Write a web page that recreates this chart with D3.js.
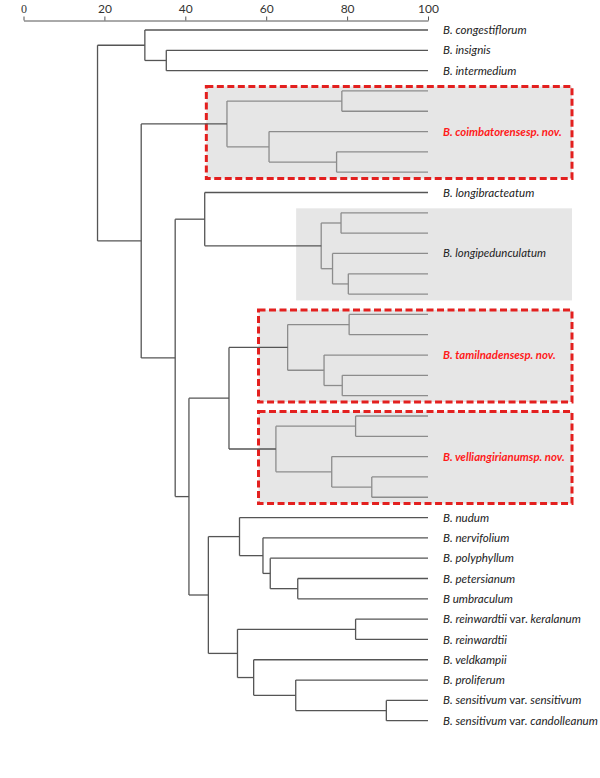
<!DOCTYPE html>
<html><head><meta charset="utf-8">
<script src="https://cdn.jsdelivr.net/npm/d3@7"></script>
<style>body{margin:0;background:#fff} svg{display:block}</style>
</head><body>
<svg id="chart" width="600" height="778"></svg>
<script>
// ---- data ----
const axisTicks = [0, 20, 40, 60, 80, 100];
const leafLabels = [
  "B. congestiflorum", "B. insignis", "B. intermedium",
  "", "", "", "", "",
  "B. longibracteatum",
  "", "", "", "", "",
  "", "", "", "", "",
  "", "", "", "", "",
  "B. nudum", "B. nervifolium", "B. polyphyllum", "B. petersianum", "B umbraculum",
  "B. reinwardtii var. keralanum", "B. reinwardtii", "B. veldkampii", "B. proliferum",
  "B. sensitivum var. sensitivum", "B. sensitivum var. candolleanum"
];
// linkage (node id of merge i = leafCount + i)
const mergeLeft   = [1, 0, 3, 6, 5, 37, 9, 12, 11, 41, 8, 14, 17, 16, 46, 19, 22, 21, 50, 49, 27, 26, 25, 24, 29, 33, 32, 31, 59, 58, 54, 45, 40, 36];
const mergeRight  = [2, 35, 4, 7, 38, 39, 10, 13, 42, 43, 44, 15, 18, 47, 48, 20, 23, 51, 52, 53, 28, 55, 56, 57, 30, 34, 60, 61, 62, 63, 64, 65, 66, 67];
const mergeHeight = [35.3, 30.0, 78.7, 77.4, 60.7, 50.3, 78.5, 80.3, 76.4, 73.6, 44.8, 80.5, 78.8, 74.3, 65.3, 82.1, 86.1, 76.2, 62.4, 50.8, 67.8, 61.0, 59.2, 53.4, 82.1, 89.7, 67.3, 56.9, 52.9, 45.7, 40.9, 37.5, 29.1, 18.3];
const groupLabels = ["B. coimbatorensesp. nov.", "B. longipedunculatum", "B. tamilnadensesp. nov.", "B. velliangirianumsp. nov."];
const groupFirst = [3, 9, 14, 19];
const groupLast = [7, 13, 18, 23];
const groupBoxStart = [45.2, 67.4, 58.1, 58.1];
const groupNew = [true, false, true, true];

// ---- layout ----
const svg = d3.select("#chart");
const nLeaves = leafLabels.length;
const x = d3.scaleLinear().domain([0, 100]).range([23.5, 428]);
const y = d3.scaleLinear().domain([0, nLeaves - 1]).range([30, 720.7]);
const boxRight = 572;
const labelX = x(100) + 15;
const fontFam = "Lato, 'Open Sans', sans-serif";

// nodes
const nodes = [];
for (let i = 0; i < nLeaves; i++) nodes.push({ h: 100, y: y(i), leaves: [i] });
mergeLeft.forEach((l, i) => {
  const a = nodes[l], b = nodes[mergeRight[i]];
  nodes.push({ h: mergeHeight[i], y: (a.y + b.y) / 2, children: [a, b], leaves: a.leaves.concat(b.leaves) });
});
function groupOf(node) {
  for (let g = 0; g < groupFirst.length; g++) {
    if (node.leaves.every(k => k >= groupFirst[g] && k <= groupLast[g])) return g;
  }
  return -1;
}

// boxes
groupLabels.forEach((lab, g) => {
  const top = y(groupFirst[g]) - 4.5, bot = y(groupLast[g]) + 6.3;
  svg.append("rect")
    .attr("x", x(groupBoxStart[g])).attr("y", top)
    .attr("width", boxRight - x(groupBoxStart[g])).attr("height", bot - top)
    .attr("fill", "#e6e6e6")
    .attr("stroke", groupNew[g] ? "#e3201f" : "none")
    .attr("stroke-width", 3)
    .attr("stroke-dasharray", "7,3.5");
});

// links
const linkG = svg.append("g").attr("fill", "none").attr("stroke-width", 1.3);
nodes.forEach(n => {
  if (!n.children) return;
  const inG = groupOf(n) >= 0;
  const col = inG ? "#8c8c8c" : "#555";
  const xn = x(n.h);
  linkG.append("line").attr("x1", xn).attr("x2", xn)
    .attr("y1", n.children[0].y).attr("y2", n.children[1].y).attr("stroke", col);
  n.children.forEach(c => {
    linkG.append("line").attr("x1", xn).attr("x2", x(c.h))
      .attr("y1", c.y).attr("y2", c.y).attr("stroke", col);
  });
});

// leaf labels
leafLabels.forEach((lab, i) => {
  if (!lab) return;
  const t = svg.append("text").attr("x", labelX).attr("y", y(i)).attr("dy", "0.35em")
    .attr("font-family", fontFam).attr("font-size", 11.6).attr("fill", "#222");
  const parts = lab.split(" var. ");
  t.append("tspan").attr("font-style", "italic").text(parts[0]);
  if (parts.length > 1) {
    t.append("tspan").text("\u00a0var.\u00a0");
    t.append("tspan").attr("font-style", "italic").text(parts[1]);
  }
});

// group labels
groupLabels.forEach((lab, g) => {
  const mid = (y(groupFirst[g]) + y(groupLast[g])) / 2;
  svg.append("text").attr("x", labelX).attr("y", mid).attr("dy", "0.35em")
    .attr("font-family", fontFam).attr("font-size", 11.4)
    .attr("font-style", "italic")
    .attr("font-weight", groupNew[g] ? "bold" : "normal")
    .attr("fill", groupNew[g] ? "#ff1a1a" : "#222")
    .text(lab);
});

// axis
const axG = svg.append("g").attr("transform", "translate(0,20.5)")
  .call(d3.axisTop(x).tickValues(axisTicks).tickSize(4).tickSizeOuter(0).tickPadding(4));
axG.select(".domain").attr("stroke", "#555");
axG.selectAll(".tick line").attr("stroke", "#555");
axG.selectAll(".tick text").attr("font-family", d => d === 0 ? "'Liberation Serif', serif" : fontFam)
  .attr("font-size", 12).attr("fill", "#333");
</script>
</body></html>
